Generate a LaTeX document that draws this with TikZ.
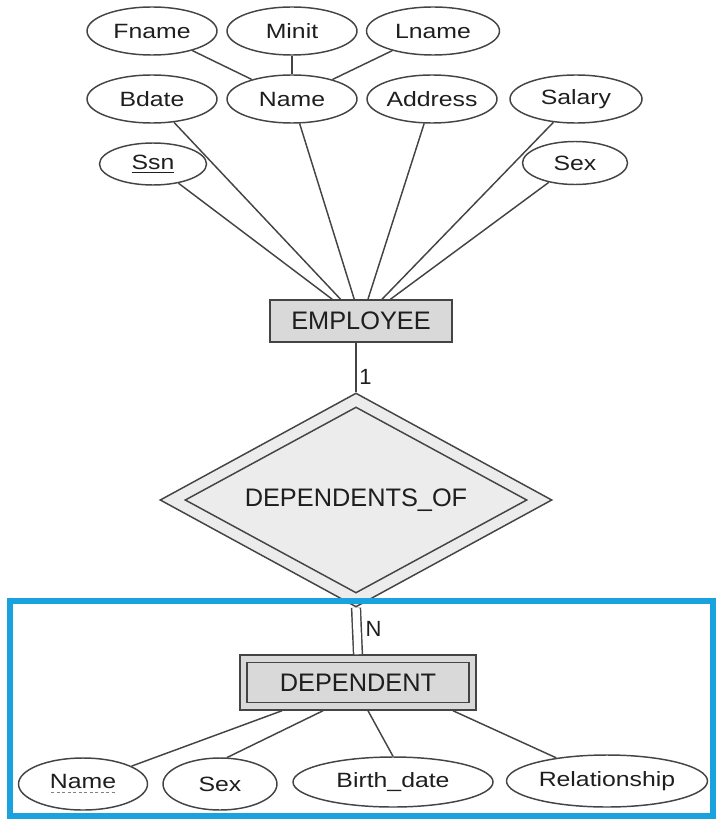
\documentclass[tikz,border=0pt]{standalone}
\usepackage{fontspec}
\setmainfont{Liberation Sans}
\newfontfamily\attrfont{Liberation Sans}[FakeStretch=1.2]
\usetikzlibrary{shapes.geometric}

\definecolor{linegray}{HTML}{444444}
\definecolor{entfill}{HTML}{D9D9D9}
\definecolor{relfill}{HTML}{ECECEC}
\definecolor{frameblue}{HTML}{19A2DE}
\definecolor{txtgray}{HTML}{1E1E1E}

\newcommand{\entityfont}{\fontsize{19}{22}\selectfont}
\newcommand{\cardfont}{\fontsize{16.5}{19}\selectfont}
% dashed underline for a partial key
\newcommand{\partkey}[1]{\setbox0=\hbox{#1}\rlap{\color{gray}\hbox to \wd0{%
  \xleaders\hbox to 4pt{\hss\rule[-3.5pt]{2.6pt}{0.8pt}\hss}\hfill}}\box0}

\tikzset{
  attr/.style={ellipse, draw=linegray, line width=1.1pt, inner sep=0pt,
    text=txtgray, font=\attrfont\fontsize{15.5}{18}\selectfont},
  entity/.style={rectangle, draw=linegray, fill=entfill, line width=1.1pt,
    inner sep=0pt, text=txtgray, font=\entityfont},
  link/.style={draw=linegray, line width=1.1pt},
}

\begin{document}
\begin{tikzpicture}[x=0.75pt,y=-0.75pt]
        \useasboundingbox (0,0) rectangle (717,820);
        % attributes of EMPLOYEE
        \foreach \nm/\txt/\x/\y/\w/\h in {%
          fname/Fname/152/31/130/48, minit/Minit/292/31/130/48,
          lname/Lname/433/31/133/48,
          bdate/Bdate/152/99/130/48, ename/Name/292/99/130/48,
          address/Address/432/99/130/48, salary/Salary/576/99/132/48,
          ssn/\underline{Ssn}/153/164/107/42, esex/Sex/575/163/105/43} {
          \node[attr, minimum width=\w*0.75pt, minimum height=\h*0.75pt] (\nm) at (\x,\y) {\txt};
        }
        \node[entity, minimum width=136.5pt, minimum height=31.5pt] (emp) at (361,321) {EMPLOYEE};
        \foreach \a in {fname,minit,lname} {
          \draw[link] (\a) -- (ename);
        }
        \foreach \a in {ssn,bdate,ename,address,salary,esex} {
          \draw[link] (\a) -- (emp);
        }
        % identifying relationship
        \node[diamond, draw=linegray, fill=relfill, line width=1.1pt, inner sep=0pt,
          minimum width=294pt, minimum height=160.5pt] (depof) at (356,500) {};
        \node[diamond, draw=linegray, line width=1.1pt, inner sep=0pt, aspect=1.84,
          minimum width=256.5pt, minimum height=139.5pt, text=txtgray, font=\entityfont]
          (depofin) at (depof) {DEPENDENTS\_OF};
        \draw[link] (emp.south -| depof.north) -- (depof.north)
          node[pos=0.7, right, inner sep=2pt, font=\cardfont, text=txtgray] (one) {1};
        \draw[frameblue, line width=4.5pt] (10,601) rectangle (713,816);
        % weak entity DEPENDENT
        \node[entity, minimum width=177pt, minimum height=41.25pt] (dep) at (358,682.5) {};
        \node[entity, minimum width=166.5pt, minimum height=30pt] (depin) at (dep) {DEPENDENT};
        \draw[link, double=white, double distance=5.5pt] (depof.south) -- (dep.north)
          node[pos=0.45, right, inner sep=6pt, font=\cardfont, text=txtgray] (many) {N};
        \foreach \nm/\txt/\x/\y/\w/\h in {%
          dname/\partkey{Name}/83/784/129/52, dsex/Sex/220/784/114/52,
          birth/Birth\_date/393/782/200/50, rel/Relationship/607/781/201/52} {
          \node[attr, minimum width=\w*0.75pt, minimum height=\h*0.75pt] (\nm) at (\x,\y) {\txt};
        }
        \foreach \dx/\a in {-57/dname, -26.25/dsex.75, 7.5/birth.north, 71.25/rel} {
          \draw[link] ([xshift=\dx pt]dep.south) -- (\a);
        }
\end{tikzpicture}
\end{document}
